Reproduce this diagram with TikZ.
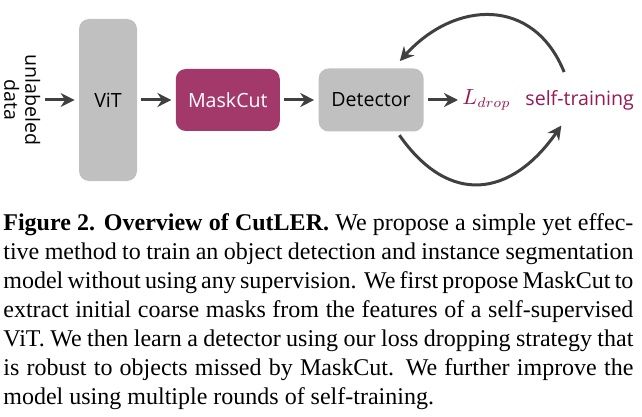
\documentclass[tikz,border=0pt]{standalone}
\usepackage{fontspec}
\setmainfont{Liberation Serif}
\newfontfamily\diagfont{Open Sans}
\usetikzlibrary{arrows.meta,positioning}
\definecolor{maskcut}{RGB}{163,57,106}
\definecolor{selftrain}{RGB}{150,25,85}
\definecolor{boxgray}{RGB}{192,192,192}
\definecolor{arrowgray}{RGB}{64,64,64}

\begin{document}
\begin{tikzpicture}[x=0.5pt,y=-0.5pt,node distance=19pt,
	>={Stealth[length=7pt,width=7pt]},
	flow/.style={->,draw=arrowgray,line width=1.5pt,shorten >=2pt,shorten <=2pt},
	block/.style={rounded corners=5pt,fill=boxgray,text=black,inner sep=0pt,
		font=\diagfont\fontsize{9.8}{10.5}\selectfont}]
	\useasboundingbox (0,0) rectangle (642,417);

	\node[block,minimum width=29pt,minimum height=81pt] (vit) at (108,100) {ViT};
	\node[block,fill=maskcut,text=white,minimum width=52pt,minimum height=31pt,
		right=of vit] (maskcut) {MaskCut};
	\node[block,minimum width=52.5pt,minimum height=31.5pt,right=of maskcut] (det) {Detector};
	\node[rotate=-90,anchor=north,align=center,inner sep=0pt,
		font=\diagfont\fontsize{9.8}{10.5}\selectfont] (data) at ([xshift=-19pt]vit.west) {unlabeled\\data};
	\node[right=of det,text=selftrain,inner sep=0pt,font=\fontsize{10.5}{12}\selectfont] (loss) {$L_{drop}$};
	\node[right=7pt of loss,text=selftrain,inner sep=0pt,
		font=\diagfont\fontsize{9.8}{10.5}\selectfont] (st) {self-training};

	\draw[flow] (data) -- (vit);
	\draw[flow] (vit) -- (maskcut);
	\draw[flow] (maskcut) -- (det);
	\draw[flow] (det) -- (loss);
	% self-training loop
	\draw[flow] ([xshift=-7pt,yshift=7pt]st.north) to[out=112,in=48,looseness=1.3] ([xshift=13pt,yshift=2pt]det.north);
	\draw[flow] ([xshift=13pt]det.south) to[out=-55,in=-125,looseness=1.4] ([xshift=-8pt,yshift=-6pt]st.south);

	\node[anchor=north west,text width=315pt,align=justify,inner sep=0pt,
		font=\fontsize{12}{14.5}\selectfont] (caption) at (3,213)
		{\textbf{Figure 2. Overview of CutLER.} We propose a simple yet effec-\linebreak
		tive method to train an object detection and instance segmentation
		model without using any supervision. We first propose MaskCut to
		extract initial coarse masks from the features of a self-supervised
		ViT. We then learn a detector using our loss dropping strategy that
		is robust to objects missed by MaskCut. We further improve the
		model using multiple rounds of self-training.};
\end{tikzpicture}
\end{document}
